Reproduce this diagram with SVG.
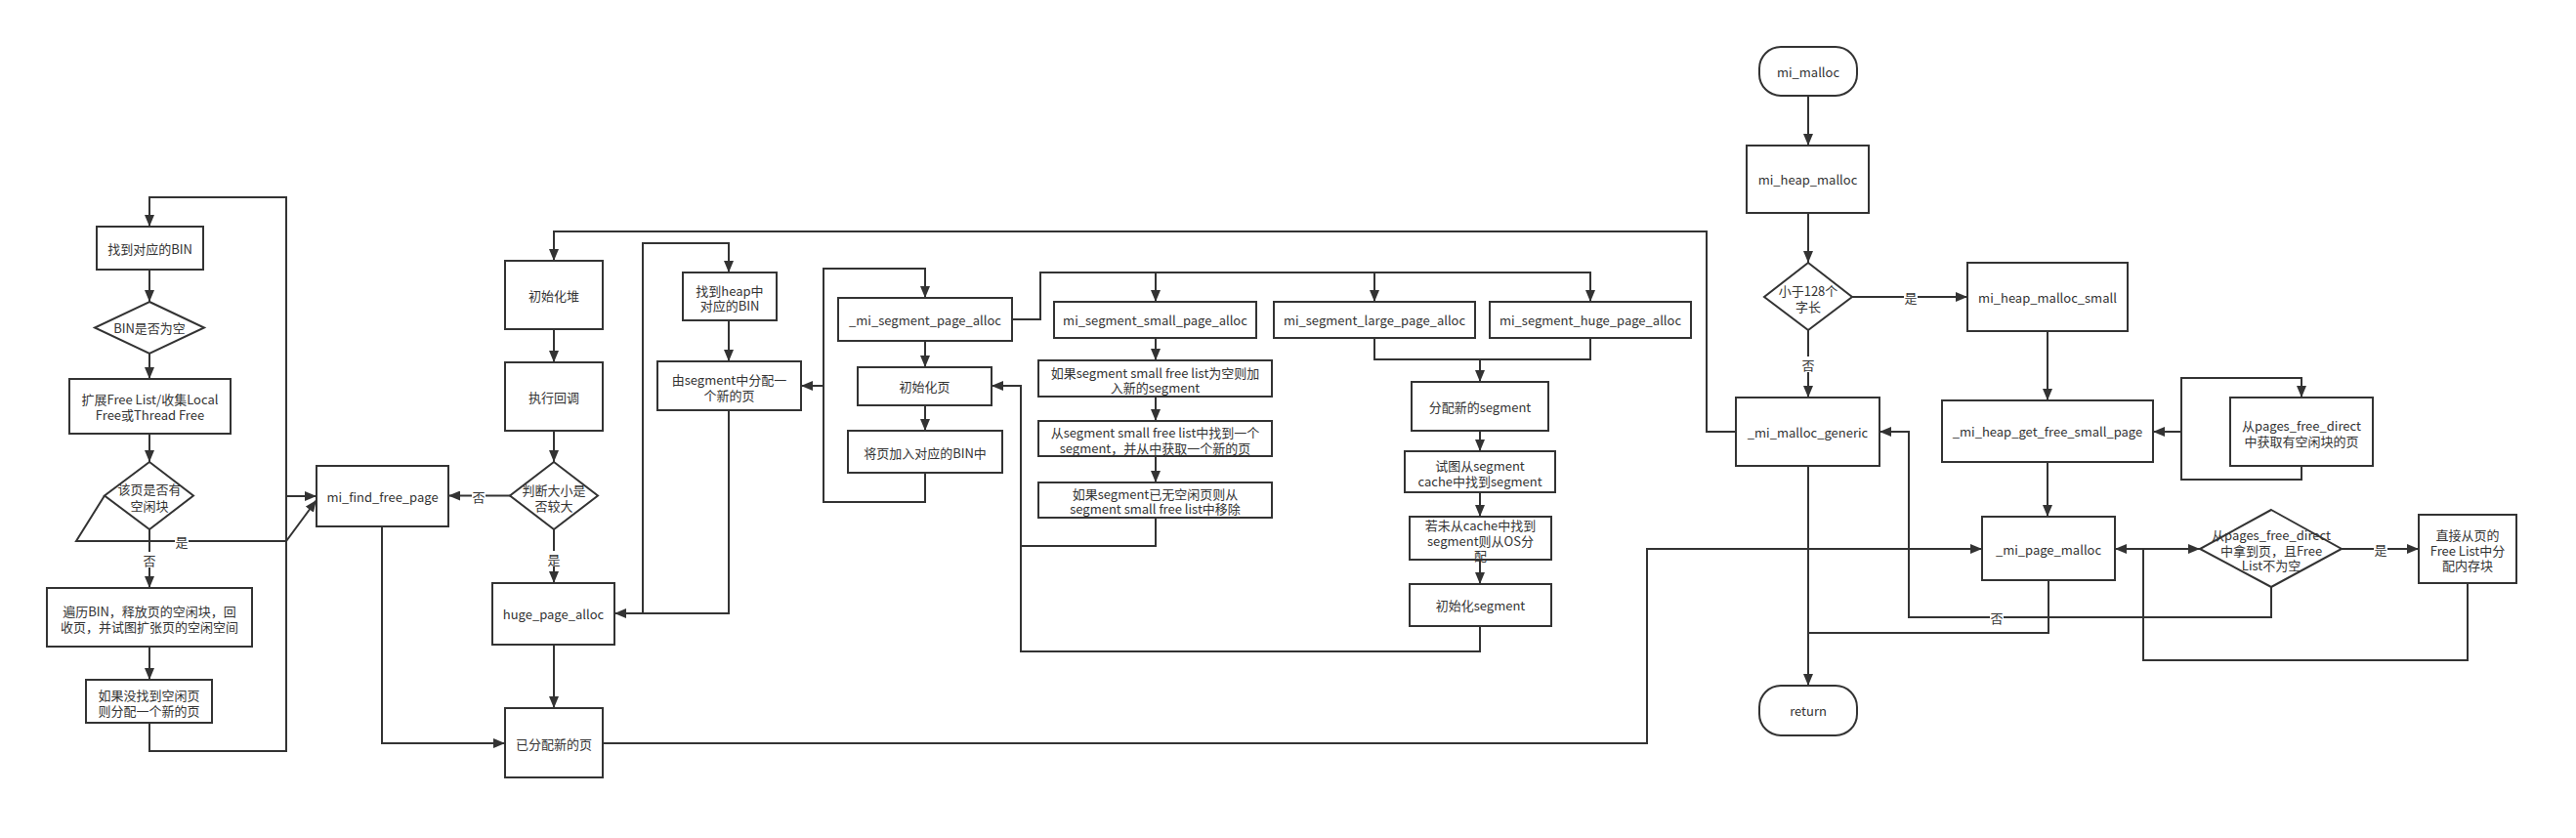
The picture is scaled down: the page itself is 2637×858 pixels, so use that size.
<svg xmlns="http://www.w3.org/2000/svg" width="2637" height="858" viewBox="0 0 2637 858">
<defs>
<marker id="ah" viewBox="0 0 12 10" markerWidth="12" markerHeight="10" refX="12" refY="5" orient="auto" markerUnits="userSpaceOnUse">
<path d="M0,0 L12,5 L0,10 z" fill="#333"/>
</marker>
<style>
.n rect,.n polygon{fill:#fff;stroke:#333;stroke-width:2}
text{font-family:"Noto Sans CJK SC","Noto Sans",sans-serif;font-size:13px;fill:#333;text-anchor:middle;dominant-baseline:central}
.e path{fill:none;stroke:#333;stroke-width:2}
.e path.a{marker-end:url(#ah)}
.lb rect{fill:#fff;stroke:none}
</style>
</defs>
<rect width="2637" height="858" fill="#fff"/>
<g id="connectors" class="e">
<path class="a" d="M153,740 V769 H293 V202 H153 V232"/>
<path class="a" d="M153,276 V309"/>
<path class="a" d="M153,362 V388"/>
<path class="a" d="M153,444 V473"/>
<path class="a" d="M153,542 V602"/>
<path class="a" d="M107,507.5 L78,554 H293 L324,512"/>
<path class="a" d="M293,508 H324"/>
<path class="a" d="M153,662 V696"/>
<path class="a" d="M391,539 V761 H517"/>
<path class="a" d="M567,337 V371"/>
<path class="a" d="M567,441 V473"/>
<path class="a" d="M522,507.5 H459"/>
<path class="a" d="M567,542 V597"/>
<path class="a" d="M567,660 V725"/>
<path class="a" d="M617,761 H1686 V562 H2029"/>
<path class="a" d="M1777,442 H1747 V237 H567 V267"/>
<path class="a" d="M746,420 V628 H629"/>
<path class="a" d="M658,628 V249 H746 V279"/>
<path class="a" d="M746,328 V370"/>
<path class="a" d="M947,484 V514 H843 V275 H947 V305"/>
<path class="a" d="M843,395 H820"/>
<path class="a" d="M947,349 V376"/>
<path class="a" d="M947,415 V441"/>
<path class="a" d="M1036,327 H1065 V279 H1628 V309"/>
<path class="a" d="M1183,279 V309"/>
<path class="a" d="M1407,279 V309"/>
<path class="a" d="M1183,346 V369"/>
<path class="a" d="M1183,406 V431"/>
<path class="a" d="M1183,467 V494"/>
<path d="M1183,530 V559 H1045"/>
<path class="a" d="M1515,641 V667 H1045 V395 H1015"/>
<path d="M1407,346 V368 H1628 V346"/>
<path class="a" d="M1515,368 V391"/>
<path class="a" d="M1515,441 V462"/>
<path class="a" d="M1515,504 V529"/>
<path class="a" d="M1515,573 V598"/>
<path class="a" d="M1851,98 V149"/>
<path class="a" d="M1851,218 V269"/>
<path class="a" d="M1896,304 H2014"/>
<path class="a" d="M1851,338 V407"/>
<path class="a" d="M2096,339 V410"/>
<path class="a" d="M2356,477 V491 H2233 V387 H2356 V407"/>
<path class="a" d="M2233,442 H2204"/>
<path class="a" d="M2096,473 V529"/>
<path class="a" d="M2165,562 H2252"/>
<path class="a" d="M2397,562 H2476"/>
<path class="a" d="M2526,597 V676 H2194 V562 H2165"/>
<path class="a" d="M2325,601 V632 H1954 V442 H1924"/>
<path d="M2097,594 V648 H1851"/>
<path class="a" d="M1851,477 V702"/>
<g class="lb">
<rect x="146" y="565" width="14" height="16"/><text x="153" y="573">否</text>
<rect x="179" y="546" width="14" height="16"/><text x="186" y="554">是</text>
<rect x="483" y="500" width="14" height="16"/><text x="490" y="508">否</text>
<rect x="560" y="564" width="14" height="16"/><text x="567" y="572">是</text>
<rect x="1949" y="296" width="14" height="16"/><text x="1956" y="304">是</text>
<rect x="1844" y="365" width="14" height="16"/><text x="1851" y="373">否</text>
<rect x="2430" y="554" width="14" height="16"/><text x="2437" y="562">是</text>
<rect x="2037" y="624" width="14" height="16"/><text x="2044" y="632">否</text>
</g>
</g>
<g id="n1" class="n"><rect x="99" y="232" width="109" height="44"/><text x="153.5" y="254">找到对应的BIN</text></g>
<g id="n2" class="n"><polygon points="153,309 209,335.5 153,362 97,335.5"/><text x="153" y="335.5">BIN是否为空</text></g>
<g id="n3" class="n"><rect x="71" y="388" width="165" height="56"/><text x="153.5" y="408">扩展Free List/收集Local</text><text x="153.5" y="424">Free或Thread Free</text></g>
<g id="n4" class="n"><polygon points="153,473 198,507.5 153,542 107,507.5"/><text x="153" y="500">该页是否有</text><text x="153" y="517">空闲块</text></g>
<g id="n5" class="n"><rect x="48" y="602" width="210" height="60"/><text x="153" y="625">遍历BIN，释放页的空闲块，回</text><text x="153" y="641">收页，并试图扩张页的空闲空间</text></g>
<g id="n6" class="n"><rect x="88" y="696" width="129" height="44"/><text x="152.5" y="711">如果没找到空闲页</text><text x="152.5" y="727">则分配一个新的页</text></g>
<g id="n7" class="n"><rect x="324" y="477" width="135" height="62"/><text x="391.5" y="508">mi_find_free_page</text></g>
<g id="n8" class="n"><rect x="517" y="267" width="100" height="70"/><text x="567" y="302">初始化堆</text></g>
<g id="n9" class="n"><rect x="517" y="371" width="100" height="70"/><text x="567" y="406">执行回调</text></g>
<g id="n10" class="n"><polygon points="567,473 612,507.5 567,542 522,507.5"/><text x="567" y="501">判断大小是</text><text x="567" y="517">否较大</text></g>
<g id="n11" class="n"><rect x="504" y="597" width="125" height="63"/><text x="566.5" y="628.5">huge_page_alloc</text></g>
<g id="n12" class="n"><rect x="517" y="725" width="100" height="71"/><text x="567" y="761">已分配新的页</text></g>
<g id="n13" class="n"><rect x="699" y="279" width="96" height="49"/><text x="747" y="297">找到heap中</text><text x="747" y="312">对应的BIN</text></g>
<g id="n14" class="n"><rect x="673" y="370" width="147" height="50"/><text x="746.5" y="388">由segment中分配一</text><text x="746.5" y="404">个新的页</text></g>
<g id="n15" class="n"><rect x="858" y="305" width="178" height="44"/><text x="947" y="327">_mi_segment_page_alloc</text></g>
<g id="n16" class="n"><rect x="878" y="376" width="137" height="39"/><text x="946.5" y="395">初始化页</text></g>
<g id="n17" class="n"><rect x="868" y="441" width="158" height="43"/><text x="947" y="463">将页加入对应的BIN中</text></g>
<g id="n18" class="n"><rect x="1079" y="309" width="207" height="37"/><text x="1182.5" y="327.5">mi_segment_small_page_alloc</text></g>
<g id="n19" class="n"><rect x="1063" y="369" width="239" height="37"/><text x="1182.5" y="381">如果segment small free list为空则加</text><text x="1182.5" y="396">入新的segment</text></g>
<g id="n20" class="n"><rect x="1063" y="431" width="239" height="36"/><text x="1182.5" y="442">从segment small free list中找到一个</text><text x="1182.5" y="458">segment，并从中获取一个新的页</text></g>
<g id="n21" class="n"><rect x="1063" y="494" width="239" height="36"/><text x="1182.5" y="505">如果segment已无空闲页则从</text><text x="1182.5" y="520">segment small free list中移除</text></g>
<g id="n22" class="n"><rect x="1304" y="309" width="206" height="37"/><text x="1407" y="327.5">mi_segment_large_page_alloc</text></g>
<g id="n23" class="n"><rect x="1525" y="309" width="206" height="37"/><text x="1628" y="327.5">mi_segment_huge_page_alloc</text></g>
<g id="n24" class="n"><rect x="1445" y="391" width="140" height="50"/><text x="1515" y="416">分配新的segment</text></g>
<g id="n25" class="n"><rect x="1438" y="462" width="154" height="42"/><text x="1515" y="476">试图从segment</text><text x="1515" y="492">cache中找到segment</text></g>
<g id="n26" class="n"><rect x="1443" y="529" width="145" height="44"/><text x="1515.5" y="537">若未从cache中找到</text><text x="1515.5" y="553">segment则从OS分</text><text x="1515.5" y="568">配</text></g>
<g id="n27" class="n"><rect x="1443" y="598" width="145" height="43"/><text x="1515.5" y="619.5">初始化segment</text></g>
<g id="n28" class="n"><rect x="1801" y="48" width="100" height="50" rx="22" ry="22"/><text x="1851" y="73">mi_malloc</text></g>
<g id="n29" class="n"><rect x="1788" y="149" width="125" height="69"/><text x="1850.5" y="183.5">mi_heap_malloc</text></g>
<g id="n30" class="n"><polygon points="1851,269 1896,304 1851,338 1806,304"/><text x="1851" y="297">小于128个</text><text x="1851" y="313">字长</text></g>
<g id="n31" class="n"><rect x="2014" y="269" width="164" height="70"/><text x="2096" y="304">mi_heap_malloc_small</text></g>
<g id="n32" class="n"><rect x="1777" y="407" width="147" height="70"/><text x="1850.5" y="442">_mi_malloc_generic</text></g>
<g id="n33" class="n"><rect x="1988" y="410" width="216" height="63"/><text x="2096" y="441.5">_mi_heap_get_free_small_page</text></g>
<g id="n34" class="n"><rect x="2283" y="407" width="146" height="70"/><text x="2356" y="435">从pages_free_direct</text><text x="2356" y="451">中获取有空闲块的页</text></g>
<g id="n35" class="n"><rect x="2029" y="529" width="136" height="65"/><text x="2097" y="562">_mi_page_malloc</text></g>
<g id="n36" class="n"><polygon points="2325,522 2397,562 2325,601 2252,562"/><text x="2325" y="547">从pages_free_direct</text><text x="2325" y="563">中拿到页，且Free</text><text x="2325" y="578">List不为空</text></g>
<g id="n37" class="n"><rect x="2476" y="527" width="100" height="70"/><text x="2526" y="547">直接从页的</text><text x="2526" y="563">Free List中分</text><text x="2526" y="578">配内存块</text></g>
<g id="n38" class="n"><rect x="1801" y="702" width="100" height="51" rx="22" ry="22"/><text x="1851" y="727.5">return</text></g>
</svg>
